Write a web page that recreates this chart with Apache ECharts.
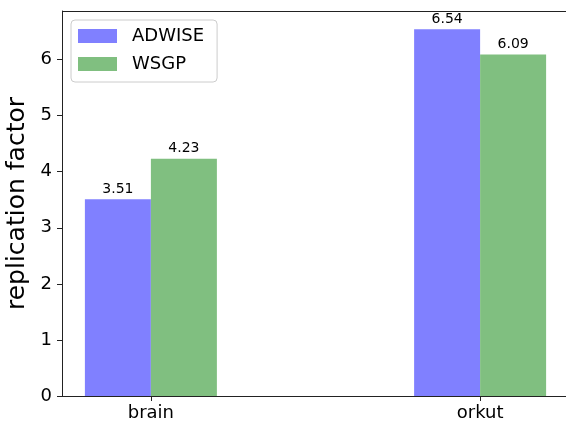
<!DOCTYPE html>
<html><head><meta charset="utf-8">
<script src="https://cdn.jsdelivr.net/npm/echarts@6/dist/echarts.min.js"></script>
<style>html,body{margin:0;padding:0;background:#fff}#c{width:566px;height:423px}</style>
</head><body><div id="c"></div>
<script>
const categories = ['brain', 'orkut'];
const seriesNames = ['ADWISE', 'WSGP'];
const adwise = [3.51, 6.54];
const wsgp = [4.23, 6.09];
const yTicks = [0, 1, 2, 3, 4, 5, 6];
const colors = ['#8080ff', '#80bf80'];

const font = 'DejaVu Sans';
const axisColor = '#222';
const chart = echarts.init(document.getElementById('c'));
const mk = (name, vals, color) => ({
  name: name, type: 'bar', barWidth: 66, barGap: '0%',
  data: vals.map((v, i) => [i, v]),
  itemStyle: { color: color },
  label: { show: true, position: 'top', distance: 3, fontFamily: font, fontSize: 14, color: '#000',
           formatter: p => p.value[1].toFixed(2) },
  emphasis: { disabled: true }
});
chart.setOption({
  animation: false,
  grid: { left: 62, right: -3, top: 11, bottom: 27, containLabel: false, outerBoundsMode: 'none' },
  legend: {
    orient: 'vertical', left: 71, top: 20,
    data: seriesNames, icon: 'rect', itemWidth: 39, itemHeight: 14, itemGap: 10,
    padding: [7, 13, 9, 7],
    borderColor: '#cccccc', borderWidth: 1, borderRadius: 4, backgroundColor: '#fff',
    textStyle: { fontFamily: font, fontSize: 18, color: '#000', padding: [0, 0, 0, 10] },
    selectedMode: false
  },
  xAxis: {
    type: 'value', min: -0.27, max: 1.27,
    axisLine: { onZero: false, lineStyle: { color: axisColor, width: 1 } },
    axisTick: { show: true, length: 5, customValues: [0, 1], lineStyle: { color: axisColor } },
    axisLabel: { customValues: [0, 1], formatter: v => categories[Math.round(v)], fontFamily: font, fontSize: 18, color: '#000', margin: 8 },
    splitLine: { show: false }
  },
  yAxis: {
    type: 'value', min: 0, max: 6.867, interval: 1,
    name: 'replication factor', nameLocation: 'middle', nameGap: 30,
    nameTextStyle: { fontFamily: font, fontSize: 25, color: '#000' },
    axisLine: { show: true, onZero: false, lineStyle: { color: axisColor, width: 1 } },
    axisTick: { show: true, length: 5, customValues: yTicks, lineStyle: { color: axisColor } },
    axisLabel: { customValues: yTicks, fontFamily: font, fontSize: 18, color: '#000', margin: 10 },
    splitLine: { show: false }
  },
  series: [mk(seriesNames[0], adwise, colors[0]), mk(seriesNames[1], wsgp, colors[1])],
  graphic: [
    { type: 'line', shape: { x1: 62, y1: 11.5, x2: 566, y2: 11.5 }, style: { stroke: axisColor, lineWidth: 1 }, silent: true }
  ]
});
</script></body></html>
